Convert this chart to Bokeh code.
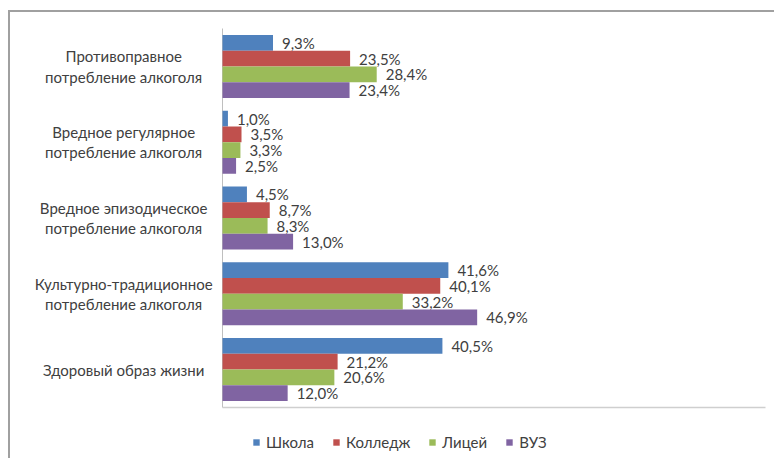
from bokeh.plotting import figure
from bokeh.models import ColumnDataSource, Range1d, Legend, LegendItem
from bokeh.core.properties import value
from bokeh.embed import file_html
from bokeh.resources import INLINE

categories = [
    "Противоправное\nпотребление алкоголя",
    "Вредное регулярное\nпотребление алкоголя",
    "Вредное эпизодическое\nпотребление алкоголя",
    "Культурно-традиционное\nпотребление алкоголя",
    "Здоровый образ жизни",
]
series = ["Школа", "Колледж", "Лицей", "ВУЗ"]
school = [9.3, 1.0, 4.5, 41.6, 40.5]
college = [23.5, 3.5, 8.7, 40.1, 21.2]
lyceum = [28.4, 3.3, 8.3, 33.2, 20.6]
vuz = [23.4, 2.5, 13.0, 46.9, 12.0]
colors = ["#4F81BD", "#C0504D", "#9BBB59", "#8064A2"]

FONT = "Lato"
TXT = "#404040"
FS = "15px"

# canvas geometry (px)
W, H = 766, 448
PLOT_L, PLOT_R, PLOT_T, PLOT_B = 212, 755, 16, 395
X_MAX = 100.0
N = len(categories)
kx = (PLOT_R - PLOT_L) / X_MAX
ky = (PLOT_B - PLOT_T) / N

p = figure(
    x_range=Range1d(-PLOT_L / kx, X_MAX + (W - PLOT_R) / kx),
    y_range=Range1d(-(H - PLOT_B) / ky, N + PLOT_T / ky),
    width=W, height=H,
    output_backend="svg", toolbar_location=None,
    min_border=0, min_border_left=0, min_border_right=0, min_border_top=0, min_border_bottom=0,
    x_axis_location=None, y_axis_location=None,
)
p.styles = {"margin-left": "8px", "margin-top": "10px",
            "border-left": "2px solid #a0a0a0", "border-top": "2px solid #a0a0a0"}
p.outline_line_color = None
p.grid.visible = False

centers = [N - i - 0.5 for i in range(N)]

# axis lines
p.segment(x0=[0], y0=[0], x1=[0], y1=[N], line_color="#BFBFBF", line_width=1)
p.segment(x0=[0], y0=[0], x1=[X_MAX], y1=[0], line_color="#CFCFCF", line_width=1.5)

# category labels
p.text(x=[-18.2] * N, y=centers, text=categories, text_align="center",
       text_baseline="middle", text_line_height=1.13,
       text_font=value(FONT), text_font_size=FS, text_color=TXT)

h = 0.2078
offsets = [1.5 * h, 0.5 * h, -0.5 * h, -1.5 * h]
items = []
for name, vals, col, off in zip(series, [school, college, lyceum, vuz], colors, offsets):
    src = ColumnDataSource(dict(y=[c + off for c in centers], val=vals,
                                lab=[f"{v:.1f}%".replace(".", ",") for v in vals]))
    r = p.hbar(y="y", left=0, right="val", height=h,
               fill_color=col, line_color=None, source=src)
    p.text(x="val", y="y", text="lab", source=src,
           x_offset=9, text_baseline="middle", text_align="left",
           text_font=value(FONT), text_font_size=FS, text_color=TXT)
    items.append(LegendItem(label=name, renderers=[r]))

legend = Legend(items=items, orientation="horizontal", location=(242, 9),
                glyph_width=8, glyph_height=8, label_standoff=6, spacing=18,
                padding=0, margin=0, border_line_color=None, background_fill_alpha=0,
                label_text_font=FONT, label_text_font_size=FS, label_text_color=TXT)
p.add_layout(legend)

open("out.html", "w").write(file_html(p, INLINE))
